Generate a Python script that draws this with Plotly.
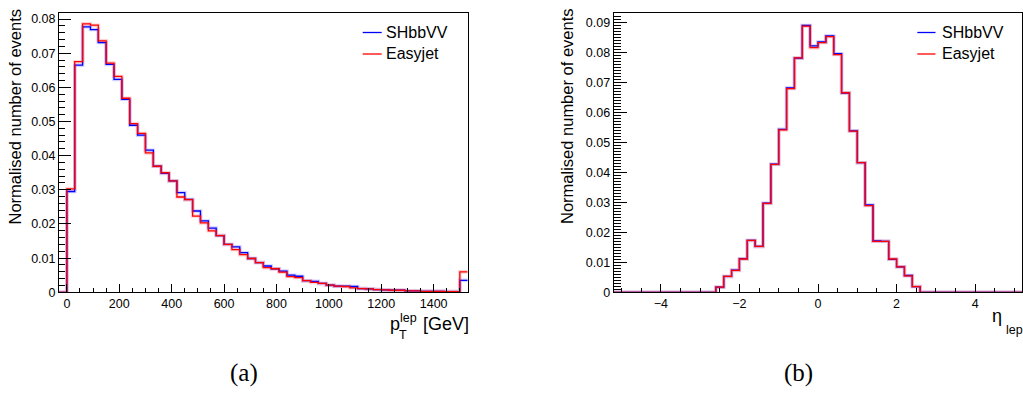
import plotly.graph_objects as go

W, H = 1023, 394

# ---------------- data ----------------
pt_low_edges = [-30 + 30 * i for i in range(52)]  # GeV, bin width 30
pt_easyjet = [0, 0.0303, 0.0675, 0.0786, 0.0782, 0.0736, 0.0671, 0.0632, 0.0568, 0.0494,
              0.0465, 0.0408, 0.0369, 0.0350, 0.0326, 0.0279, 0.0271, 0.0223, 0.0203, 0.0180,
              0.0166, 0.0140, 0.0125, 0.0110, 0.0099, 0.0087, 0.0072, 0.0069, 0.0059, 0.0046,
              0.0043, 0.0034, 0.0029, 0.0026, 0.0021, 0.0018, 0.0017, 0.0013, 0.0011, 0.0010,
              0.0008, 0.0007, 0.0006, 0.0006, 0.0004, 0.0004, 0.0003, 0.0003, 0.0003, 0.0002,
              0.0002, 0.0060]
pt_shbbvv = [0, 0.0295, 0.0665, 0.0777, 0.0769, 0.0731, 0.0667, 0.0623, 0.0565, 0.0489,
             0.0460, 0.0416, 0.0369, 0.0348, 0.0326, 0.0292, 0.0272, 0.0238, 0.0209, 0.0188,
             0.0166, 0.0140, 0.0133, 0.0116, 0.0099, 0.0087, 0.0077, 0.0069, 0.0062, 0.0050,
             0.0047, 0.0034, 0.0032, 0.0026, 0.0021, 0.0018, 0.0018, 0.0017, 0.0011, 0.0010,
             0.0008, 0.0007, 0.0006, 0.0006, 0.0004, 0.0004, 0.0003, 0.0003, 0.0003, 0.0002,
             0.0002, 0.0035]

eta_low_edges = [round(-5.2 + 0.2 * i, 1) for i in range(52)]  # bin width 0.2
_zeros = [0.0] * 13
eta_easyjet = _zeros + [0.0017, 0.0053, 0.0073, 0.0111, 0.0173, 0.0153, 0.0296, 0.0426, 0.0541,
                        0.0679, 0.0781, 0.0887, 0.0815, 0.0832, 0.0852, 0.0792, 0.0665, 0.0537,
                        0.0432, 0.0289, 0.0170, 0.0170, 0.0111, 0.0085, 0.0055, 0.0019] + _zeros
eta_shbbvv = _zeros + [0.0017, 0.0053, 0.0074, 0.0112, 0.0173, 0.0153, 0.0297, 0.0427, 0.0543,
                       0.0681, 0.0780, 0.0889, 0.0821, 0.0834, 0.0854, 0.0795, 0.0664, 0.0538,
                       0.0432, 0.0291, 0.0171, 0.0170, 0.0110, 0.0085, 0.0056, 0.0019] + _zeros

series_names = ["SHbbVV", "Easyjet"]
series_colors = ["#0000ff", "#ff0000"]
band_colors = ["rgba(0,0,255,0.18)", "rgba(255,0,0,0.18)"]

FONT = "Liberation Sans, Arial, sans-serif"
SERIF = "Liberation Serif, DejaVu Serif, serif"


def step_xy(low, vals):
    width = low[-1] - low[-2]
    return list(low) + [low[-1] + width], list(vals) + [vals[-1]]


fig = go.Figure()

for axn, low, sets in [("", pt_low_edges, [pt_shbbvv, pt_easyjet]),
                       ("2", eta_low_edges, [eta_shbbvv, eta_easyjet])]:
    for i, vals in enumerate(sets):
        x, y = step_xy(low, vals)
        fig.add_trace(go.Scatter(x=x, y=y, mode="lines", line_shape="hv",
                                 line=dict(color=band_colors[i], width=3.5),
                                 xaxis="x" + axn, yaxis="y" + axn, showlegend=False,
                                 hoverinfo="skip"))
    for i, vals in enumerate(sets):
        x, y = step_xy(low, vals)
        fig.add_trace(go.Scatter(x=x, y=y, mode="lines", line_shape="hv",
                                 line=dict(color=series_colors[i], width=1.3),
                                 xaxis="x" + axn, yaxis="y" + axn, name=series_names[i],
                                 showlegend=False))


def px(xp):
    return xp / W


def py(yp):
    return 1 - yp / H


ydom = [py(292.3), py(13.2)]
common = dict(showline=True, linecolor="black", linewidth=1, mirror=True, showgrid=False,
              zeroline=False, ticks="inside", tickcolor="black", automargin=False,
              tickfont=dict(family=FONT, size=12.5, color="black"))

fig.update_layout(
    template="none",
    width=W, height=H, margin=dict(l=0, r=0, t=0, b=0, pad=0, autoexpand=False),
    paper_bgcolor="white", plot_bgcolor="white", showlegend=False,
    xaxis=dict(domain=[px(59), px(467.7)], range=[-30, 1530], anchor="y", dtick=200,
               tick0=0, ticklen=8, minor=dict(dtick=50, tick0=0, ticklen=4, ticks="inside",
                                              tickcolor="black"), **common),
    yaxis=dict(domain=ydom, range=[0, 0.0817], anchor="x", dtick=0.01, ticklen=12,
               minor=dict(dtick=0.002, ticklen=6, ticks="inside", tickcolor="black"), **common),
    xaxis2=dict(domain=[px(613.7), px(1022.3)], range=[-5.2, 5.2], anchor="y2", dtick=2,
                tick0=0, ticklen=8, minor=dict(dtick=0.5, tick0=0, ticklen=4, ticks="inside",
                                               tickcolor="black"), **common),
    yaxis2=dict(domain=ydom, range=[0, 0.093], anchor="x2", dtick=0.01, ticklen=13,
                minor=dict(dtick=0.001, ticklen=7, ticks="inside", tickcolor="black"), **common),
)

ann = []
# y titles
for xc in (15, 567.5):
    ann.append(dict(text="Normalised number of events", x=px(xc), y=py(6.5), xanchor="center",
                    yanchor="top", textangle=-90,
                    font=dict(family=FONT, size=16.5, color="black")))

# x title left: p_T^lep [GeV]
ann += [
    dict(text="p", x=px(387.5), y=py(331), xanchor="left", yanchor="bottom", yshift=-5,
         font=dict(family=FONT, size=18, color="black")),
    dict(text="T", x=px(396.5), y=py(341), xanchor="left", yanchor="bottom", yshift=-3,
         font=dict(family=FONT, size=12.5, color="black")),
    dict(text="lep", x=px(397.5), y=py(323.5), xanchor="left", yanchor="bottom", yshift=-3,
         font=dict(family=FONT, size=12.5, color="black")),
    dict(text="[GeV]", x=px(470.5), y=py(331), xanchor="right", yanchor="bottom", yshift=-5,
         font=dict(family=FONT, size=18, color="black")),
    # x title right: eta_lep
    dict(text="η", x=px(1004), y=py(323), xanchor="right", yanchor="bottom", yshift=-5,
         font=dict(family=FONT, size=18, color="black")),
    dict(text="lep", x=px(1004), y=py(336), xanchor="left", yanchor="bottom", yshift=-3,
         font=dict(family=FONT, size=12.5, color="black")),
    # captions
    dict(text="(a)", x=px(243.5), y=py(373), xanchor="center", yanchor="middle",
         font=dict(family=SERIF, size=25, color="black")),
    dict(text="(b)", x=px(798), y=py(373), xanchor="center", yanchor="middle",
         font=dict(family=SERIF, size=25, color="black")),
]

shapes = []
# legends
for (lx0, lx1, tx) in [(362.7, 381.7, 384), (917.3, 935.5, 940)]:
    for i, yy in enumerate([32.5, 54.0]):
        shapes.append(dict(type="line", xref="paper", yref="paper", x0=px(lx0), x1=px(lx1),
                           y0=py(yy), y1=py(yy), line=dict(color=series_colors[i], width=1.3)))
        ann.append(dict(text=series_names[i], x=px(tx), y=py(yy), xanchor="left",
                        yanchor="middle", font=dict(family=FONT, size=16, color="black")))

for a in ann:
    a.setdefault("xref", "paper")
    a.setdefault("yref", "paper")
    a.setdefault("showarrow", False)

fig.update_layout(annotations=ann, shapes=shapes)
fig.write_html("out.html")
